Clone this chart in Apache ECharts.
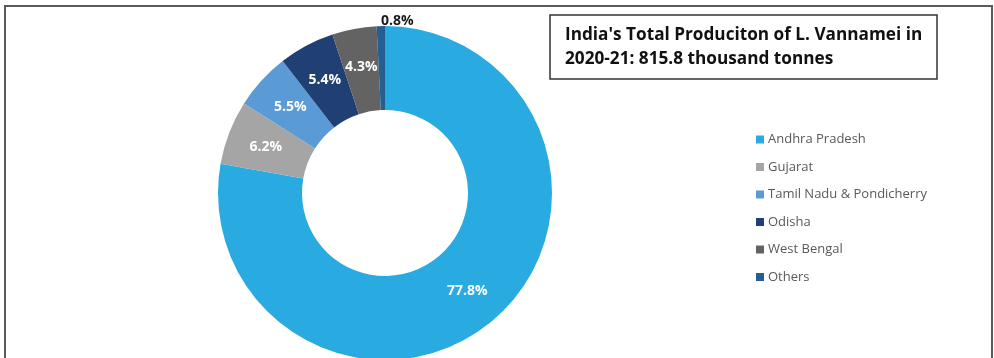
<!DOCTYPE html>
<html><head><meta charset="utf-8">
<script src="https://cdn.jsdelivr.net/npm/echarts@6/dist/echarts.min.js"></script>
<style>html,body{margin:0;padding:0;background:#fff}#c{width:994px;height:358px}</style>
</head><body><div id="c"></div>
<script>
const categories = ['Andhra Pradesh', 'Gujarat', 'Tamil Nadu & Pondicherry', 'Odisha', 'West Bengal', 'Others'];
const shares = [77.8, 6.2, 5.5, 5.4, 4.3, 0.8];
const colors = ['#29ABE2', '#A5A5A5', '#5B9BD5', '#203F73', '#636363', '#255E91'];
const titleText = "India's Total Produciton of L. Vannamei in\n2020-21: 815.8 thousand tonnes";

const FONT = 'Open Sans';
const chart = echarts.init(document.getElementById('c'), null, {renderer: 'canvas'});
const data = categories.map((name, i) => {
  const d = {name: name, value: shares[i], itemStyle: {color: colors[i]}};
  if (i === categories.length - 1) {
    // small slice: label drawn just above the ring, as in the reference
    d.label = {position: 'outside', color: '#1a1a1a', distanceToLabelLine: 5};
    d.labelLine = {show: false, length: 5, length2: -38};
  }
  return d;
});
chart.setOption({
  animation: false,
  textStyle: {fontFamily: FONT},
  graphic: [{
    type: 'rect', silent: true, z: -1,
    shape: {x: 5, y: 6, width: 987, height: 400},
    style: {fill: 'none', stroke: '#5a5a5a', lineWidth: 2}
  }],
  title: {
    text: titleText,
    left: 550, top: 15,
    padding: [8, 15, 8, 15],
    borderColor: '#333', borderWidth: 1.5,
    textStyle: {fontFamily: FONT, fontWeight: 'bold', fontSize: 17.2, lineHeight: 24, color: '#111'}
  },
  legend: {
    orient: 'vertical',
    left: 751, top: 128,
    itemWidth: 8, itemHeight: 8, itemGap: 14.5,
    icon: 'rect',
    textStyle: {fontFamily: FONT, fontSize: 13, color: '#595959', padding: [0, 0, 0, -1]},
    data: categories
  },
  series: [{
    type: 'pie',
    center: [385, 193],
    radius: [83, 167],
    startAngle: 90,
    clockwise: true,
    data: data,
    label: {
      show: true,
      position: 'inside',
      formatter: p => p.value.toFixed(1) + '%',
      color: '#fff',
      fontFamily: FONT,
      fontWeight: 'bold',
      fontSize: 14
    },
    labelLine: {show: false},
    emphasis: {disabled: true}
  }]
});
</script></body></html>
